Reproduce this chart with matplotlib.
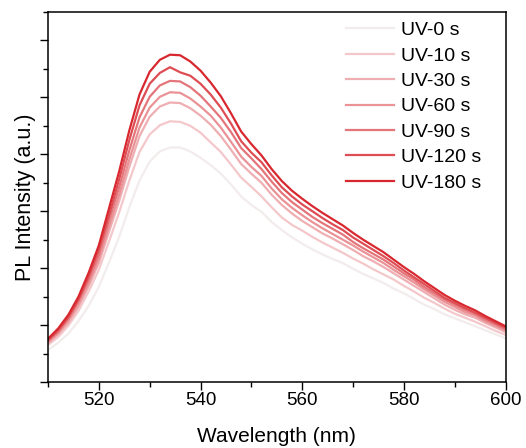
import matplotlib
matplotlib.use("Agg")
import matplotlib.pyplot as plt
from matplotlib.ticker import MultipleLocator, NullFormatter

plt.rcParams['font.family'] = ['Liberation Sans', 'DejaVu Sans']

wavelength = list(range(510, 601, 2))

uv_0 = [0.56, 0.69, 0.85, 1.07, 1.34, 1.67, 2.10, 2.55, 3.07, 3.54, 3.87, 4.05, 4.12, 4.12, 4.05, 3.94,
        3.81, 3.66, 3.47, 3.26, 3.11, 2.99, 2.81, 2.67, 2.54, 2.43, 2.33, 2.24, 2.16, 2.09, 1.99, 1.90,
        1.82, 1.74, 1.64, 1.56, 1.46, 1.36, 1.28, 1.19, 1.12, 1.05, 0.98, 0.91, 0.84, 0.77]
uv_10 = [0.65, 0.79, 0.99, 1.25, 1.59, 1.97, 2.47, 2.98, 3.54, 4.04, 4.35, 4.51, 4.58, 4.57, 4.50, 4.38,
         4.21, 4.04, 3.82, 3.59, 3.43, 3.26, 3.07, 2.89, 2.76, 2.66, 2.55, 2.45, 2.36, 2.27, 2.17, 2.08,
         1.98, 1.89, 1.80, 1.69, 1.59, 1.48, 1.39, 1.29, 1.20, 1.13, 1.06, 0.98, 0.90, 0.83]
uv_30 = [0.68, 0.84, 1.04, 1.32, 1.68, 2.09, 2.64, 3.18, 3.78, 4.32, 4.66, 4.84, 4.91, 4.90, 4.81, 4.68,
         4.52, 4.32, 4.08, 3.83, 3.66, 3.50, 3.29, 3.11, 2.96, 2.83, 2.72, 2.61, 2.52, 2.42, 2.32, 2.21,
         2.12, 2.02, 1.91, 1.80, 1.69, 1.58, 1.47, 1.36, 1.27, 1.19, 1.13, 1.04, 0.96, 0.88]
uv_60 = [0.70, 0.86, 1.08, 1.37, 1.74, 2.16, 2.73, 3.29, 3.91, 4.47, 4.82, 5.01, 5.09, 5.08, 4.98, 4.84,
         4.68, 4.47, 4.22, 3.96, 3.78, 3.62, 3.40, 3.21, 3.06, 2.93, 2.81, 2.70, 2.60, 2.50, 2.40, 2.29,
         2.19, 2.09, 1.97, 1.86, 1.75, 1.63, 1.52, 1.41, 1.32, 1.23, 1.17, 1.07, 0.99, 0.91]
uv_90 = [0.72, 0.89, 1.12, 1.43, 1.80, 2.24, 2.84, 3.42, 4.07, 4.65, 5.01, 5.21, 5.29, 5.28, 5.18, 5.03,
         4.84, 4.64, 4.39, 4.11, 3.93, 3.74, 3.52, 3.32, 3.16, 3.03, 2.90, 2.79, 2.69, 2.59, 2.46, 2.35,
         2.25, 2.15, 2.03, 1.91, 1.80, 1.67, 1.56, 1.45, 1.36, 1.27, 1.20, 1.10, 1.02, 0.93]
uv_120 = [0.74, 0.91, 1.14, 1.45, 1.86, 2.33, 2.93, 3.56, 4.25, 4.86, 5.24, 5.43, 5.53, 5.44, 5.38, 5.24,
          5.05, 4.82, 4.54, 4.23, 4.03, 3.86, 3.63, 3.42, 3.26, 3.12, 3.00, 2.88, 2.77, 2.67, 2.54, 2.43,
          2.32, 2.21, 2.09, 1.96, 1.84, 1.72, 1.60, 1.48, 1.39, 1.30, 1.22, 1.13, 1.04, 0.96]
uv_180 = [0.76, 0.94, 1.18, 1.50, 1.92, 2.40, 3.05, 3.70, 4.42, 5.05, 5.45, 5.66, 5.75, 5.74, 5.63, 5.47,
          5.26, 5.02, 4.72, 4.40, 4.18, 3.98, 3.74, 3.53, 3.36, 3.22, 3.09, 2.97, 2.86, 2.75, 2.62, 2.50,
          2.39, 2.28, 2.15, 2.02, 1.90, 1.77, 1.65, 1.53, 1.43, 1.34, 1.26, 1.16, 1.07, 0.98]

labels = ['UV-0 s', 'UV-10 s', 'UV-30 s', 'UV-60 s', 'UV-90 s', 'UV-120 s', 'UV-180 s']
series = [uv_0, uv_10, uv_30, uv_60, uv_90, uv_120, uv_180]
colors = ['#f3ecec', '#f4c8cb', '#efaeb2', '#ea9296', '#e4757a', '#de4d53', '#d8282f']

fig = plt.figure(figsize=(5.26, 4.48), dpi=100)
ax = fig.add_axes([48 / 526, 1 - 382 / 448, 457.5 / 526, 370 / 448])

for y, c, lab in zip(series, colors, labels):
    ax.plot(wavelength, y, color=c, lw=1.6, label=lab, solid_joinstyle='round')

ax.set_xlim(510, 600)
ax.set_ylim(0, 6.5)
ax.xaxis.set_major_locator(MultipleLocator(20))
ax.xaxis.set_minor_locator(MultipleLocator(10))
ax.yaxis.set_major_locator(MultipleLocator(1))
ax.yaxis.set_minor_locator(MultipleLocator(0.5))
ax.yaxis.set_major_formatter(NullFormatter())

ax.tick_params(which='major', direction='out', length=6, width=1.0, labelsize=13.5, pad=1)
ax.tick_params(which='minor', direction='out', length=3.5, width=1.0)
ax.tick_params(top=False, right=False, which='both')
for s in ax.spines.values():
    s.set_linewidth(1.1)

ax.set_xlabel('Wavelength (nm)', fontsize=15, labelpad=13.5)
ax.set_ylabel('PL Intensity (a.u.)', fontsize=15.5)
ax.yaxis.set_label_coords(-0.027, 0.5)

leg = ax.legend(loc='upper right', frameon=False, fontsize=14, handlelength=2.5,
                handletextpad=0.35, labelspacing=0.4, borderaxespad=0.0,
                bbox_to_anchor=(0.964, 0.995))

fig.savefig('out.png', dpi=100)
